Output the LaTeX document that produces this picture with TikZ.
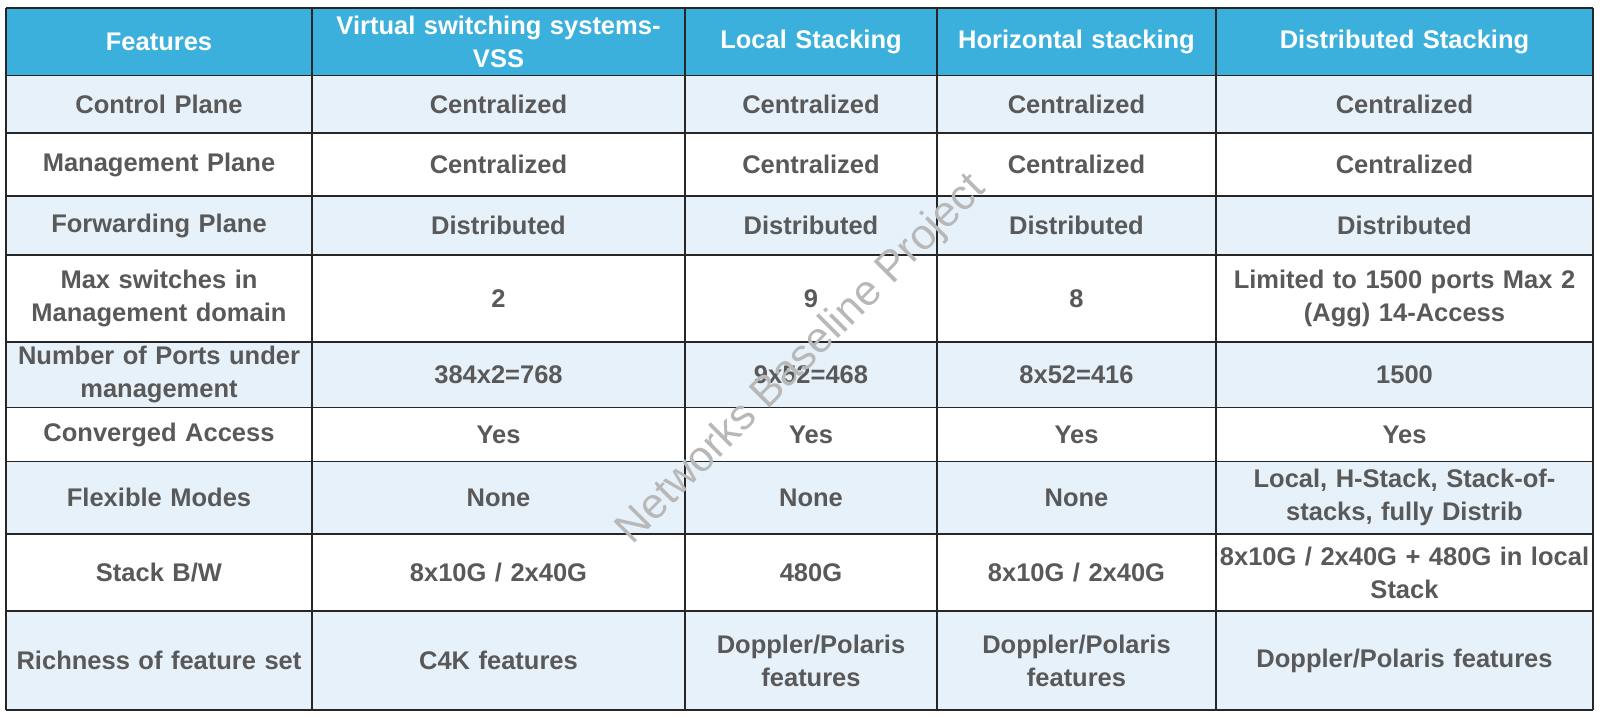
\documentclass[tikz,border=0pt]{standalone}
\usepackage{fontspec}
\setmainfont{Liberation Sans}
\definecolor{hdr}{HTML}{3BB0DC}
\definecolor{lite}{HTML}{E6F1F9}
\definecolor{txt}{HTML}{595959}
\begin{document}
\begin{tikzpicture}[x=1pt,y=-1pt,
  cell/.style={align=center,inner sep=0pt,font=\fontsize{25.5}{33}\selectfont\bfseries,text=txt},
  hcell/.style={cell,text=white}]
\useasboundingbox (0,0) rectangle (1600,718);
\fill[white] (0,0) rectangle (1600,718);
% fills
\fill[hdr] (6,8) rectangle (1593,75.5);
\foreach \a/\b in {75.5/133,196/255,342/407.5,461.5/534,611/710}
  \fill[lite] (6,\a) rectangle (1593,\b);
% grid
\foreach \y in {8,75.5,133,196,255,342,407.5,461.5,534,611,710}
  \draw[line width=1.3pt,black!85] (6,\y) -- (1593,\y);
\foreach \x in {6,312,685,937,1216,1593}
  \draw[line width=1.3pt,black!85] (\x,8) -- (\x,710);
% header
\node[hcell,text width=296pt] (h1) at (159,41.75) {Features};
\node[hcell,text width=360pt] (h2) at (498.5,41.75) {Virtual switching systems-\\VSS};
\node[hcell,text width=250pt] (h3) at (811,41.75) {Local Stacking};
\node[hcell,text width=275pt] (h4) at (1076.5,41.75) {Horizontal stacking};
\node[hcell,text width=370pt] (h5) at (1404.5,41.75) {Distributed Stacking};
% rows
\foreach \y/\n/\a/\b/\c/\d/\e in {
  104.25/r1/Control Plane/Centralized/Centralized/Centralized/Centralized,
  164.5/r2/Management Plane/Centralized/Centralized/Centralized/Centralized,
  225.5/r3/Forwarding Plane/Distributed/Distributed/Distributed/Distributed,
  298.5/r4/{Max switches in\\Management domain}/2/9/8/{Limited to 1500 ports Max 2\\(Agg) 14-Access},
  374.75/r5/{Number of Ports under\\management}/384x2=768/9x52=468/8x52=416/1500,
  434.5/r6/Converged Access/Yes/Yes/Yes/Yes,
  497.75/r7/Flexible Modes/None/None/None/{Local, H-Stack, Stack-of-\\stacks, fully Distrib},
  572.5/r8/{Stack B/W}/{8x10G / 2x40G}/480G/{8x10G / 2x40G}/{8x10G / 2x40G + 480G in local\\Stack},
  660.5/r9/Richness of feature set/C4K features/{Doppler/Polaris\\features}/{Doppler/Polaris\\features}/{Doppler/Polaris features}}
{
  \node[cell,text width=304pt] (\n c1) at (159,\y) {\a};
  \node[cell,text width=360pt] (\n c2) at (498.5,\y) {\b};
  \node[cell,text width=250pt] (\n c3) at (811,\y) {\c};
  \node[cell,text width=275pt] (\n c4) at (1076.5,\y) {\d};
  \node[cell,text width=395pt] (\n c5) at (1404.5,\y) {\e};
}
\node[rotate=45,text=black!28,font=\fontsize{43}{46}\selectfont,inner sep=0pt] (wm) at (802,360) {Networks Baseline Project};
\end{tikzpicture}
\end{document}
